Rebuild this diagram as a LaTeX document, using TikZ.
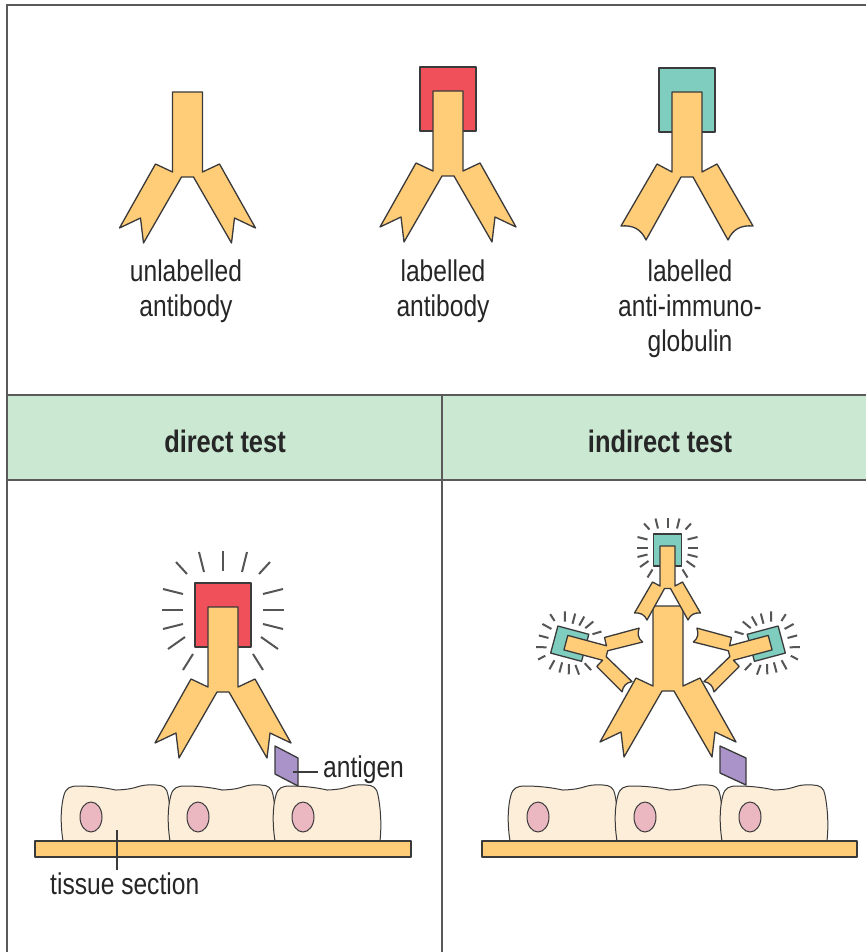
\documentclass[tikz,border=0pt]{standalone}
\usepackage{fontspec}
\setmainfont{Liberation Sans}[FakeStretch=0.82]

\definecolor{abfill}{HTML}{FFCC77}
\definecolor{tagred}{HTML}{F0505A}
\definecolor{tagteal}{HTML}{7FCDBF}
\definecolor{bandfill}{HTML}{CBE8D3}
\definecolor{cellfill}{HTML}{FDEEDA}
\definecolor{nucfill}{HTML}{EBB8C2}
\definecolor{agfill}{HTML}{AA93C9}
\definecolor{ink}{HTML}{3A3A3A}
\definecolor{raycol}{HTML}{555555}
\definecolor{framecol}{HTML}{5A5A5A}

% Antibody with notched arm ends; base of the stem at (0,0), stem pointing up
\newcommand\AbNotched{%
  \filldraw[outl,fill=abfill] (-15,-80) -- (-15,0) -- (-32,-8) -- (-68,56) -- (-47,46)
    -- (-44,71) -- (-6,5) -- (6,5) -- (44,71) -- (47,46) -- (68,56) -- (32,-8)
    -- (15,0) -- (15,-80) -- cycle;}
% Anti-immunoglobulin with concave arm ends
\newcommand\AbCurved{%
  \filldraw[outl,fill=abfill] (-15,-80) -- (-15,0) -- (-30,-8) -- (-66,54)
    .. controls (-54,53) and (-46,57) .. (-41,68) -- (-6,5) -- (6,5) -- (41,68)
    .. controls (46,57) and (54,53) .. (66,54) -- (30,-8) -- (15,0) -- (15,-80) -- cycle;}
% Coloured label block around the top of the stem
\newcommand\TagBox[1]{\filldraw[outl,fill=#1] (-28,-104) rectangle (28,-40);}
% Glow rays around the label block (centre at (0,-72))
\newcommand\GlowRays{%
  \begin{scope}[shift={(0,-72)}]
    \foreach \s in {1,-1}{
      \draw[ray] (\s*47,-53) -- (\s*36,-41);
      \draw[ray] (\s*24,-63) -- (\s*19,-43);
      \draw[ray] (\s*60,-26) -- (\s*40,-21);
      \draw[ray] (\s*61,-5) -- (\s*40,-5);
      \draw[ray] (\s*60,14) -- (\s*40,9);
      \draw[ray] (\s*55,34) -- (\s*38,22);
      \draw[ray] (\s*40,55) -- (\s*30,39);
    }
    \draw[ray] (0,-64) -- (0,-44);
  \end{scope}}
\newcommand\lblfont{\fontsize{30}{35}\selectfont}
\newcommand\headfont{\fontsize{31}{36}\selectfont\bfseries}

\begin{document}
\begin{tikzpicture}[x=1pt,y=-1pt,
  outl/.style={draw=ink,line width=1.3pt,line join=round},
  ray/.style={draw=raycol,line width=2pt},
  rule/.style={draw=framecol,line width=2pt},
  lbl/.style={font=\lblfont,text=black!85,anchor=base,inner sep=0pt},
  head/.style={font=\headfont,text=black!85,anchor=base,inner sep=0pt},
  leader/.style={draw=ink,line width=1.2pt}]
\useasboundingbox (0,0) rectangle (866,952);
\fill[white] (0,0) rectangle (866,952);

% frame and header band
\fill[bandfill] (7,395) rectangle (866,480);
\draw[rule] (7,952) -- (7,5) -- (866,5);
\draw[rule] (7,395) -- (866,395);
\draw[rule] (7,480) -- (866,480);
\draw[rule] (442,395) -- (442,952);

% legend row
\begin{scope}[shift={(187.5,172)}] \AbNotched \end{scope}
\begin{scope}[shift={(448,171)}] \TagBox{tagred} \AbNotched \end{scope}
\begin{scope}[shift={(687,172)}] \TagBox{tagteal} \AbCurved \end{scope}

\node[lbl] (ua) at (186,281) {unlabelled};
\node[lbl] (ub) at (186,316) {antibody};
\node[lbl] (la) at (443,281) {labelled};
\node[lbl] (lb) at (443,316) {antibody};
\node[lbl] (aa) at (690,281) {labelled};
\node[lbl] (ab) at (690,316) {anti-immuno-};
\node[lbl] (ac) at (690,351) {globulin};

\node[head] (hdirect) at (225,452) {direct test};
\node[head] (hindirect) at (660,452) {indirect test};

% tissue sections: cells on slides
\foreach \a/\b in {63/170,170/275,275/380,510/617,617/722,722/827}{
  \filldraw[outl,fill=cellfill,line width=1pt] (\a,841)
    .. controls ({\a-3},822) and ({\a-2},805) .. ({\a+1},795)
    .. controls ({\a+3},788) and ({\a+7},786) .. ({\a+15},786)
    .. controls ({\a+40},786) and ({\a+55},791) .. ({(\a+\b)/2},790)
    .. controls ({(\a+\b)/2+25},789) and ({\b-35},784) .. ({\b-14},785)
    .. controls ({\b-7},785) and ({\b-3},788) .. ({\b-2},795)
    .. controls ({\b},805) and ({\b+2},822) .. (\b,841) -- cycle;
  \filldraw[outl,fill=nucfill,line width=1pt] ({\a+28},817) ellipse [x radius=11,y radius=15];
}
\filldraw[outl,fill=abfill] (35,841) rectangle (411,857);
\filldraw[outl,fill=abfill] (482,841) rectangle (857,857);

% antigens
\filldraw[outl,fill=agfill] (275,746) -- (298,758) -- (298,786) -- (275,774) -- cycle;
\filldraw[outl,fill=agfill] (720,746) -- (746,758) -- (746,785) -- (720,773) -- cycle;

% direct test: labelled antibody
\begin{scope}[shift={(223,687)}] \GlowRays \TagBox{tagred} \AbNotched \end{scope}

% indirect test: primary antibody with three labelled anti-immunoglobulins
\begin{scope}[shift={(668,686)}] \AbNotched \end{scope}
\begin{scope}[shift={(667.5,586)},scale=0.5] \GlowRays \TagBox{tagteal} \AbCurved \end{scope}
\begin{scope}[shift={(604.5,653)},rotate=75,scale=0.5] \GlowRays \TagBox{tagteal} \AbCurved \end{scope}
\begin{scope}[shift={(731.5,653)},rotate=-75,scale=0.5] \GlowRays \TagBox{tagteal} \AbCurved \end{scope}

% callouts
\node[lbl,anchor=base west] (aglbl) at (323,777) {antigen};
\coordinate (agpt) at (293,772);
\draw[leader] (agpt) -- ([xshift=-5pt]aglbl.west |- agpt);
\node[lbl,anchor=base west] (tslbl) at (50,894) {tissue section};
\coordinate (tspt) at (117,830);
\draw[leader] (tspt) -- (117,870);
\end{tikzpicture}
\end{document}
